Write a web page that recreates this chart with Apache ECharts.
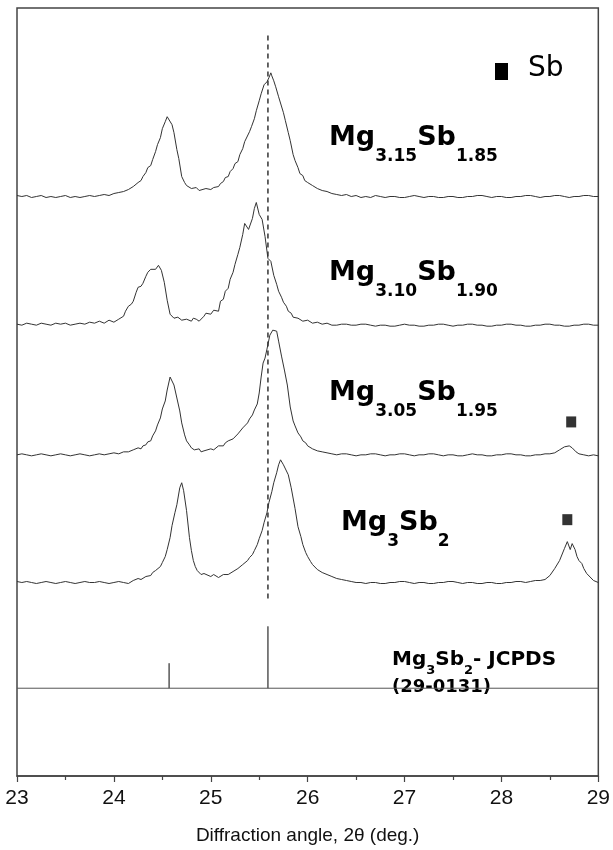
<!DOCTYPE html>
<html><head><meta charset="utf-8">
<script src="https://cdn.jsdelivr.net/npm/echarts@6/dist/echarts.min.js"></script>
<style>html,body{margin:0;padding:0;background:#fff}#c{width:613px;height:850px}</style>
</head><body><div id="c"></div>
<script>
// x axis (2theta, deg.)
const thetaMin = 23, thetaMax = 29, thetaStep = 1;
// vertical offsets of each stacked pattern (a.u.)
const offsets = [581, 453, 322, 194];
// patterns: [2theta, intensity above own baseline]
const mg315 = [[23.00,1],[23.05,0],[23.10,1],[23.15,-1],[23.20,0],[23.25,1],[23.30,-1],[23.35,0],[23.40,-1],[23.45,0],[23.50,1],[23.55,-1],[23.60,0],[23.65,-1],[23.70,0],[23.75,1],[23.80,0],[23.85,1],[23.90,2],[23.95,1],[24.00,3],[24.05,4],[24.10,5],[24.15,7],[24.20,10],[24.25,14],[24.28,16],[24.30,20],[24.33,24],[24.35,29],[24.38,31],[24.40,37],[24.43,45],[24.45,52],[24.48,59],[24.50,68],[24.53,75],[24.55,80],[24.57,82],[24.60,72],[24.62,64],[24.65,47],[24.67,38],[24.70,20],[24.73,14],[24.75,11],[24.80,8],[24.85,9],[24.88,6],[24.90,7],[24.95,8],[25.00,7],[25.03,9],[25.05,11],[25.08,10],[25.10,13],[25.13,15],[25.15,19],[25.18,20],[25.20,25],[25.23,28],[25.25,33],[25.28,35],[25.30,42],[25.33,48],[25.35,55],[25.37,57],[25.40,65],[25.42,70],[25.45,78],[25.47,86],[25.50,96],[25.52,103],[25.55,112],[25.58,115],[25.60,119],[25.62,124],[25.63,121],[25.65,116],[25.67,110],[25.70,100],[25.72,99],[25.75,84],[25.77,76],[25.80,64],[25.82,56],[25.85,42],[25.87,36],[25.90,29],[25.92,23],[25.95,21],[25.97,16],[26.00,14],[26.05,11],[26.10,8],[26.15,6],[26.20,5],[26.25,3],[26.30,2],[26.35,1],[26.40,2],[26.45,0],[26.50,1],[26.55,-1],[26.60,0],[26.65,-1],[26.70,1],[26.75,0],[26.80,-1],[26.85,0],[26.90,0],[26.95,-1],[27.00,-1],[27.05,0],[27.10,1],[27.15,0],[27.20,-1],[27.25,0],[27.30,0],[27.35,-1],[27.40,-1],[27.45,0],[27.50,0],[27.55,-1],[27.60,-1],[27.65,0],[27.70,0],[27.75,1],[27.80,1],[27.85,0],[27.90,-1],[27.95,0],[28.00,0],[28.05,-1],[28.10,-1],[28.15,0],[28.20,0],[28.25,1],[28.30,1],[28.35,0],[28.40,-1],[28.45,0],[28.50,0],[28.55,1],[28.60,1],[28.65,0],[28.70,-1],[28.75,0],[28.80,0],[28.85,1],[28.90,1],[28.95,0],[29.00,0]];
const mg310 = [[23.00,0],[23.05,-1],[23.10,1],[23.15,0],[23.20,-1],[23.25,1],[23.30,0],[23.35,-1],[23.40,1],[23.45,0],[23.50,1],[23.55,-1],[23.60,0],[23.65,1],[23.70,0],[23.75,2],[23.80,1],[23.85,3],[23.90,1],[23.95,4],[24.00,2],[24.05,5],[24.10,8],[24.12,13],[24.15,18],[24.18,20],[24.20,23],[24.23,32],[24.25,37],[24.28,38],[24.30,41],[24.33,48],[24.35,52],[24.38,55],[24.40,57],[24.43,55],[24.46,59],[24.49,54],[24.52,42],[24.55,24],[24.58,10],[24.60,8],[24.62,6],[24.64,8],[24.66,7],[24.70,4],[24.72,6],[24.75,5],[24.80,3],[24.82,6],[24.85,5],[24.88,3],[24.90,4],[24.93,8],[24.95,11],[25.00,10],[25.03,14],[25.05,15],[25.08,13],[25.10,23],[25.13,25],[25.15,33],[25.18,36],[25.20,45],[25.23,52],[25.25,60],[25.28,70],[25.30,77],[25.33,90],[25.35,101],[25.37,99],[25.39,95],[25.43,106],[25.45,116],[25.47,122],[25.50,110],[25.53,105],[25.56,88],[25.59,66],[25.62,63],[25.65,49],[25.68,40],[25.70,33],[25.73,27],[25.75,22],[25.78,18],[25.80,13],[25.83,11],[25.85,7],[25.90,6],[25.95,3],[26.00,4],[26.05,1],[26.10,2],[26.15,0],[26.20,1],[26.25,-1],[26.30,-1],[26.35,0],[26.40,0],[26.45,-1],[26.50,-1],[26.55,0],[26.60,0],[26.65,-1],[26.70,-2],[26.75,-1],[26.80,-1],[26.85,-2],[26.90,-2],[26.95,-1],[27.00,0],[27.05,-1],[27.10,-1],[27.15,-2],[27.20,-2],[27.25,-1],[27.30,-1],[27.35,0],[27.40,0],[27.45,-1],[27.50,-2],[27.55,-1],[27.60,-1],[27.65,0],[27.70,0],[27.75,-1],[27.80,-1],[27.85,-2],[27.90,-2],[27.95,-1],[28.00,-1],[28.05,0],[28.10,0],[28.15,-1],[28.20,-1],[28.25,-2],[28.30,-2],[28.35,-1],[28.40,-1],[28.45,0],[28.50,0],[28.55,-1],[28.60,-1],[28.65,-2],[28.70,-2],[28.75,-1],[28.80,-1],[28.85,0],[28.90,0],[28.95,-1],[29.00,-1]];
const mg305 = [[23.00,0],[23.05,1],[23.10,0],[23.15,-1],[23.20,0],[23.25,1],[23.30,0],[23.35,-1],[23.40,0],[23.45,1],[23.50,0],[23.55,-1],[23.60,0],[23.65,1],[23.70,0],[23.75,-1],[23.80,0],[23.85,1],[23.90,0],[23.95,1],[24.00,2],[24.05,1],[24.10,3],[24.15,3],[24.20,5],[24.25,7],[24.28,6],[24.30,9],[24.33,10],[24.35,13],[24.38,14],[24.40,19],[24.43,24],[24.45,30],[24.48,37],[24.50,46],[24.53,54],[24.55,65],[24.58,78],[24.60,76],[24.62,70],[24.65,57],[24.68,44],[24.70,32],[24.73,20],[24.75,14],[24.78,10],[24.80,7],[24.83,5],[24.85,4],[24.88,6],[24.90,3],[24.93,4],[24.95,5],[25.00,6],[25.03,5],[25.05,7],[25.08,9],[25.10,10],[25.13,9],[25.15,12],[25.18,14],[25.20,15],[25.23,16],[25.25,18],[25.28,21],[25.30,22],[25.33,27],[25.35,29],[25.38,32],[25.40,36],[25.43,40],[25.45,45],[25.48,51],[25.50,62],[25.52,78],[25.54,92],[25.56,97],[25.58,106],[25.61,120],[25.64,125],[25.68,124],[25.70,114],[25.73,99],[25.76,85],[25.79,70],[25.82,48],[25.85,34],[25.87,29],[25.90,22],[25.93,18],[25.95,14],[25.98,12],[26.00,9],[26.05,6],[26.10,4],[26.15,3],[26.20,2],[26.25,1],[26.30,0],[26.35,1],[26.40,1],[26.45,0],[26.50,-1],[26.55,0],[26.60,0],[26.65,1],[26.70,1],[26.75,0],[26.80,-1],[26.85,0],[26.90,0],[26.95,1],[27.00,1],[27.05,0],[27.10,-1],[27.15,0],[27.20,0],[27.25,1],[27.30,1],[27.35,0],[27.40,-1],[27.45,0],[27.50,0],[27.55,-1],[27.60,-1],[27.65,0],[27.70,1],[27.75,0],[27.80,0],[27.85,-1],[27.90,-1],[27.95,0],[28.00,0],[28.05,1],[28.10,1],[28.15,0],[28.20,0],[28.25,-1],[28.30,-1],[28.35,0],[28.40,0],[28.45,1],[28.50,1],[28.55,2],[28.60,5],[28.65,8],[28.70,9],[28.73,7],[28.77,3],[28.80,1],[28.85,0],[28.90,-1],[28.95,0],[29.00,-1]];
const mg300 = [[23.00,1],[23.05,0],[23.10,1],[23.15,0],[23.20,-1],[23.25,0],[23.30,1],[23.35,0],[23.40,-1],[23.45,0],[23.50,1],[23.55,0],[23.60,-1],[23.65,0],[23.70,1],[23.75,0],[23.80,0],[23.85,1],[23.90,0],[23.95,-1],[24.00,0],[24.05,1],[24.10,0],[24.15,-1],[24.20,2],[24.25,4],[24.28,3],[24.30,5],[24.33,6],[24.35,8],[24.38,7],[24.40,10],[24.43,12],[24.45,14],[24.48,16],[24.50,20],[24.53,26],[24.55,33],[24.58,45],[24.60,57],[24.63,70],[24.65,78],[24.68,95],[24.70,100],[24.72,92],[24.75,72],[24.78,45],[24.80,32],[24.82,22],[24.84,16],[24.86,12],[24.90,8],[24.93,9],[24.95,7],[25.00,6],[25.03,8],[25.05,7],[25.08,5],[25.10,6],[25.13,8],[25.15,9],[25.18,8],[25.20,10],[25.23,11],[25.25,12],[25.28,14],[25.30,15],[25.33,18],[25.35,19],[25.38,22],[25.40,25],[25.43,28],[25.45,32],[25.48,38],[25.50,44],[25.53,52],[25.55,60],[25.58,70],[25.60,80],[25.63,91],[25.65,100],[25.68,110],[25.70,118],[25.72,123],[25.74,122],[25.75,118],[25.77,120],[25.80,108],[25.83,95],[25.87,74],[25.90,56],[25.93,46],[25.95,38],[25.98,30],[26.00,26],[26.03,21],[26.05,18],[26.10,13],[26.15,10],[26.20,8],[26.25,6],[26.30,4],[26.35,3],[26.40,2],[26.45,1],[26.50,0],[26.55,0],[26.60,-1],[26.65,0],[26.70,0],[26.75,-1],[26.80,-1],[26.85,0],[26.90,0],[26.95,1],[27.00,1],[27.05,0],[27.10,-1],[27.15,0],[27.20,0],[27.25,-1],[27.30,-1],[27.35,0],[27.40,0],[27.45,1],[27.50,1],[27.55,0],[27.60,-1],[27.65,0],[27.70,0],[27.75,-1],[27.80,-1],[27.85,0],[27.90,0],[27.95,-1],[28.00,-1],[28.05,0],[28.10,0],[28.15,1],[28.20,1],[28.25,0],[28.30,1],[28.35,2],[28.40,2],[28.45,3],[28.50,7],[28.55,14],[28.60,22],[28.65,34],[28.68,41],[28.71,33],[28.73,39],[28.76,33],[28.78,26],[28.80,22],[28.83,19],[28.85,14],[28.88,9],[28.90,7],[28.95,2],[29.00,0]];
const patterns = [mg315, mg310, mg305, mg300];
// JCPDS 29-0131 reference sticks
const jcpdsTheta = [24.57, 25.59];
const jcpdsIntensity = [25, 62];
const jcpdsOffset = 88;
// dashed guide line
const guideTheta = 25.59;
const guideRange = [178, 746];
// Sb impurity markers: [pattern index, 2theta, height above baseline]
const sbPattern = [2, 3];
const sbTheta = [28.72, 28.68];
const sbHeight = [33, 63];

const FONT = 'Liberation Sans, Arial, sans-serif';
const BFONT = 'DejaVu Sans, sans-serif';
const lineCol = '#333';

const series = patterns.map((p, i) => ({
  type: 'line', showSymbol: false, silent: true,
  data: p.map(d => [d[0], d[1] + offsets[i]]),
  lineStyle: { color: lineCol, width: 1 }
}));
const jData = [[thetaMin, jcpdsOffset]];
jcpdsTheta.forEach((t, k) => { jData.push([t, jcpdsOffset], [t, jcpdsOffset + jcpdsIntensity[k]], [t, jcpdsOffset]); });
jData.push([thetaMax, jcpdsOffset]);
series.push({ type: 'line', showSymbol: false, silent: true, data: jData, lineStyle: { color: '#555', width: 1 } });
series.push({ type: 'line', showSymbol: false, silent: true,
  data: [[guideTheta, guideRange[0]], [guideTheta, guideRange[1]]],
  lineStyle: { color: '#333', width: 1.5, type: [5, 4] } });
series.push({ type: 'scatter', silent: true, symbol: 'rect', symbolSize: [10, 11],
  itemStyle: { color: '#000' },
  data: sbTheta.map((t, k) => [t, offsets[sbPattern[k]] + sbHeight[k]]) });

function formula(x, top, parts, ms, ss, mlh, pad) {
  return {
    type: 'text', x: x, y: top, silent: true,
    style: {
      text: parts.map(p => '{' + p[0] + '|' + p[1] + '}').join(''),
      align: 'left', verticalAlign: 'top',
      rich: {
        m: { fontFamily: BFONT, fontWeight: 'bold', fontSize: ms, lineHeight: mlh, verticalAlign: 'top', fill: '#000' },
        s: { fontFamily: BFONT, fontWeight: 'bold', fontSize: ss, lineHeight: ss, padding: [pad, 0, 0, 0], verticalAlign: 'top', fill: '#000' }
      }
    }
  };
}
const labels = [
  { x: 329, top: 124, parts: [['m','Mg'],['s','3.15'],['m','Sb'],['s','1.85']] },
  { x: 329, top: 259, parts: [['m','Mg'],['s','3.10'],['m','Sb'],['s','1.90']] },
  { x: 329, top: 379, parts: [['m','Mg'],['s','3.05'],['m','Sb'],['s','1.95']] },
  { x: 341, top: 509, parts: [['m','Mg'],['s','3'],['m','Sb'],['s','2']] }
];
const graphics = labels.map(l => formula(l.x, l.top, l.parts, 27, 17, 32, 24));
graphics.push(formula(392, 650, [['m','Mg'],['s','3'],['m','Sb'],['s','2'],['m','- JCPDS']], 20, 13, 24, 14));
graphics.push({ type: 'text', x: 392, y: 678, silent: true,
  style: { text: '(29-0131)', fontFamily: BFONT, fontWeight: 'bold', fontSize: 18, fill: '#000', align: 'left', verticalAlign: 'top' } });
graphics.push({ type: 'rect', silent: true, shape: { x: 495, y: 63, width: 13, height: 17 }, style: { fill: '#000' } });
graphics.push({ type: 'text', x: 528, y: 55, silent: true,
  style: { text: 'Sb', fontFamily: 'DejaVu Sans, sans-serif', fontSize: 28, fill: '#000', align: 'left', verticalAlign: 'top' } });

const chart = echarts.init(document.getElementById('c'), null, { renderer: 'canvas' });
chart.setOption({
  animation: false,
  backgroundColor: '#fff',
  grid: { left: 17, right: 14, top: 8, bottom: 72, show: true, borderColor: '#444', borderWidth: 1.5 },
  xAxis: {
    type: 'value', min: thetaMin, max: thetaMax, interval: thetaStep,
    name: 'Diffraction angle, 2θ (deg.)', nameLocation: 'middle', nameGap: 50,
    nameTextStyle: { fontFamily: FONT, fontSize: 19, color: '#111' },
    axisLine: { show: true, lineStyle: { color: '#444', width: 1.5 } },
    axisTick: { show: true, inside: false, length: 6, lineStyle: { color: '#444', width: 1.2 } },
    minorTick: { show: true, splitNumber: 2, length: 4, lineStyle: { color: '#444', width: 1.2 } },
    axisLabel: { fontFamily: FONT, fontSize: 21, color: '#111', margin: 12 },
    splitLine: { show: false }
  },
  yAxis: {
    type: 'value', min: 0, max: 770, show: false
  },
  series: series,
  graphic: graphics
});
</script></body></html>
